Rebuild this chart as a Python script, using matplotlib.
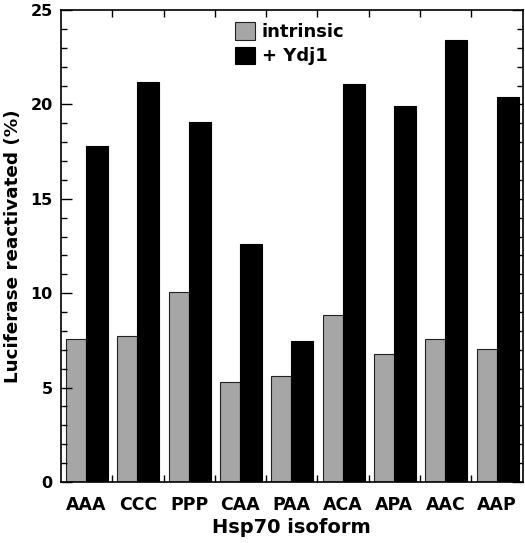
import matplotlib.pyplot as plt
import numpy as np

plt.rcParams['font.family'] = ['DejaVu Sans']
plt.rcParams['font.weight'] = 'bold'

isoforms = ['AAA', 'CCC', 'PPP', 'CAA', 'PAA', 'ACA', 'APA', 'AAC', 'AAP']
intrinsic = [7.6, 7.72, 10.04, 5.3, 5.6, 8.85, 6.78, 7.6, 7.05]
ydj1 = [17.8, 21.2, 19.06, 12.58, 7.46, 21.1, 19.9, 23.4, 20.4]

fig = plt.figure(figsize=(5.25, 5.43), dpi=100)
ax = fig.add_axes([0.116, 0.1123, 0.8796, 0.8693])

x = np.arange(len(isoforms))
ax.bar(x + 0.1, intrinsic, width=0.39, align='edge', color='#a6a6a6',
       edgecolor='#222222', linewidth=0.8, label='intrinsic')
ax.bar(x + 0.49, ydj1, width=0.43, align='edge', color='black',
       edgecolor='black', linewidth=0.8, label='+ Ydj1')

ax.set_xlim(0, len(isoforms))
ax.set_ylim(0, 25)

ax.set_xticks(x + 0.5)
ax.set_xticklabels(isoforms, fontsize=12.5, fontweight='bold')
ax.set_xticks(np.arange(1, len(isoforms)), minor=True)
ax.tick_params(axis='x', which='major', length=0, pad=10)
ax.tick_params(axis='x', which='minor', direction='in', length=5,
               top=True, bottom=True, width=1)

ax.set_yticks(np.arange(0, 26, 5))
ax.set_yticks(np.arange(0, 26, 1), minor=True)
ax.tick_params(axis='y', which='major', direction='in', length=8, width=1,
               left=True, right=True, labelsize=11.5, pad=6)
ax.tick_params(axis='y', which='minor', direction='in', length=4, width=1,
               left=True, right=True)
for lab in ax.get_yticklabels():
    lab.set_fontweight('bold')

for s in ax.spines.values():
    s.set_linewidth(1.2)

ax.set_xlabel('Hsp70 isoform', fontsize=14, fontweight='bold', labelpad=3)
ax.set_ylabel('Luciferase reactivated (%)', fontsize=13.2, fontweight='bold',
              labelpad=6)

ax.legend(loc='upper left', bbox_to_anchor=(0.357, 0.993), frameon=False,
          handlelength=1.1, handleheight=1.1, borderpad=0,
          labelspacing=0.3, handletextpad=0.4,
          prop={'weight': 'bold', 'size': 13})

fig.savefig('out.png', dpi=100)
